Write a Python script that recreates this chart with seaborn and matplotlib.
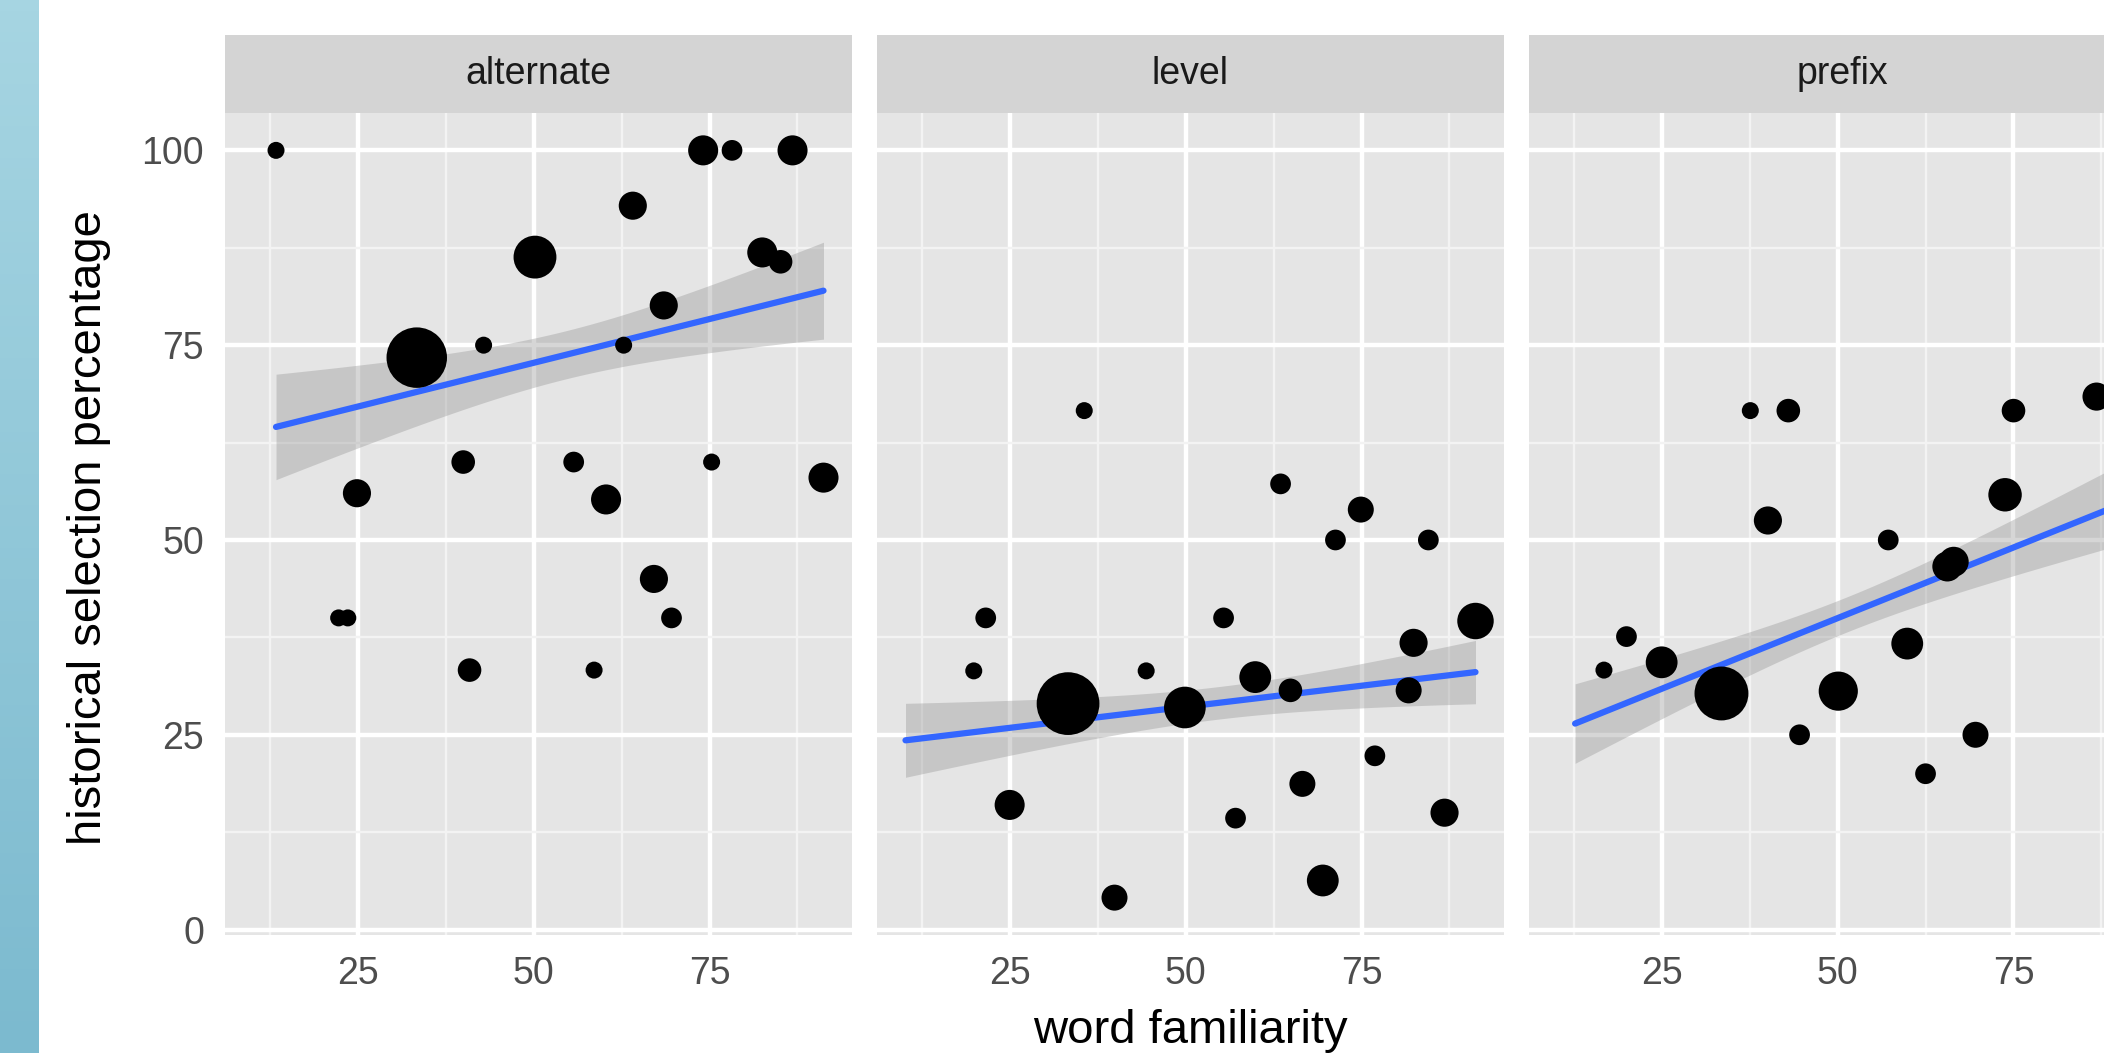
import numpy as np
import pandas as pd
import seaborn as sns
import matplotlib.pyplot as plt
from matplotlib.colors import LinearSegmentedColormap

# ---- data ----
facets = ['alternate', 'level', 'prefix']

alternate_familiarity = [13.4, 74.1, 78.2, 86.8, 64.1, 50.2, 82.5, 85.1, 68.5, 33.4, 42.9, 62.8,
                         40.0, 55.7, 75.3, 91.2, 24.9, 60.3, 67.1, 22.3, 23.6, 69.6, 40.9, 58.6]
alternate_selection = [100, 100, 100, 100, 92.9, 86.3, 86.9, 85.7, 80.1, 73.4, 75, 75,
                       60, 60, 60, 58, 56, 55.2, 45, 40, 40, 40, 33.3, 33.3]
alternate_n = [1, 6, 2, 6, 5, 15, 6, 3, 5, 34, 1, 1,
               3, 2, 1, 6, 5, 6, 5, 1, 1, 2, 3, 1]

level_familiarity = [10.2, 35.6, 63.5, 74.9, 71.3, 84.5, 21.6, 55.4, 91.2, 82.4, 19.9, 44.4,
                     59.9, 64.9, 81.7, 33.3, 49.9, 76.9, 66.6, 25.0, 57.1, 86.8, 69.5, 39.9]
level_selection = [50, 66.6, 57.2, 53.9, 50, 50, 40, 40, 39.6, 36.8, 33.2, 33.2,
                   32.4, 30.7, 30.7, 29.0, 28.5, 22.3, 18.7, 16.0, 14.3, 15.0, 6.3, 4.1]
level_n = [0, 1, 2, 4, 2, 2, 2, 2, 10, 5, 1, 1,
           7, 3, 4, 37, 14, 2, 4, 6, 2, 5, 7, 4]

# the last prefix word sits past the cropped right edge
prefix_familiarity = [12.7, 37.6, 43.0, 75.0, 86.8, 73.8, 40.1, 57.2, 65.6, 66.5,
                      59.9, 20.0, 25.0, 16.8, 33.5, 50.1, 44.6, 69.6, 62.5, 90.5]
prefix_selection = [30, 66.6, 66.6, 66.6, 68.4, 55.8, 52.5, 50, 46.6, 47.2,
                    36.7, 37.6, 34.3, 33.3, 30.3, 30.6, 25, 25, 20, 35]
prefix_n = [0, 1, 3, 3, 5, 8, 5, 2, 6, 6,
            7, 2, 7, 1, 26, 12, 2, 4, 2, 2]

x_ticks = [25, 50, 75]
y_ticks = [0, 25, 50, 75, 100]

frames = []
for name, fx, sy, n in [('alternate', alternate_familiarity, alternate_selection, alternate_n),
                        ('level', level_familiarity, level_selection, level_n),
                        ('prefix', prefix_familiarity, prefix_selection, prefix_n)]:
    frames.append(pd.DataFrame({'pattern': name, 'familiarity': fx, 'selection': sy, 'n': n}))
df = pd.concat(frames, ignore_index=True)


def weighted_fit(sub, grid):
    # lm(selection ~ familiarity) with n as frequency weights, 95% band
    m = sub['n'] > 0
    x = sub.loc[m, 'familiarity'].to_numpy(float)
    y = sub.loc[m, 'selection'].to_numpy(float)
    w = sub.loc[m, 'n'].to_numpy(float)
    X = np.column_stack([np.ones_like(x), x])
    inv = np.linalg.inv(X.T @ (w[:, None] * X))
    beta = inv @ X.T @ (w * y)
    res = y - X @ beta
    dof = w.sum() - 2
    s2 = np.sum(w * res ** 2) / dof
    G = np.column_stack([np.ones_like(grid), grid])
    fit = G @ beta
    se = np.sqrt(s2 * np.einsum('ij,jk,ik->i', G, inv, G))
    t = 1.96 + 2.4 / dof
    return fit, fit - t * se, fit + t * se


# point diameter in pixels grows with sqrt(n)
def marker_area(n):
    d_px = 8 + 9 * np.sqrt(n)
    return (0.72 * d_px) ** 2


# ---- figure layout (pixels of the 2104 x 1053 canvas) ----
W, H = 2104, 1053
sns.set_theme(style='darkgrid')
plt.rcParams['font.family'] = ['Liberation Sans', 'DejaVu Sans']

fig = plt.figure(figsize=(W / 100, H / 100), dpi=100)
fig.patch.set_facecolor('white')

# light blue slide stripe on the left
stripe = fig.add_axes([0, 0, 39 / W, 1])
cmap = LinearSegmentedColormap.from_list('stripe', ['#A6D5E2', '#7CBACF'])
stripe.imshow(np.linspace(0, 1, 100)[:, None], aspect='auto', cmap=cmap)
stripe.set_axis_off()

panel_left = [225, 877, 1529]
panel_w = 627
panel_top, panel_bottom = 113, 935
strip_top = 35

xmin, xmax = df['familiarity'].min(), df['familiarity'].max()
ymin, ymax = df['selection'].min(), df['selection'].max()
xlim = (xmin - 0.05 * (xmax - xmin), xmax + 0.05 * (xmax - xmin))
ylim = (ymin - 0.05 * (ymax - ymin), ymax + 0.05 * (ymax - ymin))
size_map = {v: marker_area(v) for v in sorted(df.loc[df['n'] > 0, 'n'].unique())}

for i, name in enumerate(facets):
    sub = df[df['pattern'] == name]
    ax = fig.add_axes([panel_left[i] / W, 1 - panel_bottom / H,
                       panel_w / W, (panel_bottom - panel_top) / H])
    ax.set_facecolor('#E5E5E5')

    grid = np.linspace(sub['familiarity'].min(), sub['familiarity'].max(), 100)
    fit, lo, hi = weighted_fit(sub, grid)
    ax.fill_between(grid, lo, hi, color='#999999', alpha=0.4, linewidth=0, zorder=2)
    sns.lineplot(x=grid, y=fit, color='#3366FF', linewidth=4.5, ax=ax, zorder=3)

    pts = sub[sub['n'] > 0]
    sns.scatterplot(data=pts, x='familiarity', y='selection', size='n',
                    sizes=size_map, color='black', linewidth=0, legend=False,
                    ax=ax, zorder=4)

    ax.set_xlim(xlim)
    ax.set_ylim(ylim)
    ax.set_xticks(x_ticks)
    ax.set_yticks(y_ticks)
    ax.set_xticks([12.5, 37.5, 62.5, 87.5], minor=True)
    ax.set_yticks([12.5, 37.5, 62.5, 87.5], minor=True)
    ax.grid(which='major', color='white', linewidth=3.2)
    ax.grid(which='minor', color='#F3F3F3', linewidth=1.7)
    ax.set_axisbelow(True)
    for sp in ax.spines.values():
        sp.set_visible(False)
    ax.set_xlabel('')
    ax.set_ylabel('')
    ax.tick_params(axis='both', which='major', length=8, width=2.2, color='#333333',
                   labelsize=27, labelcolor='#4D4D4D', pad=7)
    ax.tick_params(axis='both', which='minor', length=0)
    ax.set_xticklabels([str(v) for v in x_ticks])
    if i == 0:
        ax.set_yticklabels([str(v) for v in y_ticks])
    else:
        ax.tick_params(axis='y', which='major', length=0, labelleft=False)

    # facet strip
    strip = fig.add_axes([panel_left[i] / W, 1 - panel_top / H,
                          panel_w / W, (panel_top - strip_top) / H])
    strip.set_facecolor('#D4D4D4')
    strip.set_xticks([])
    strip.set_yticks([])
    for sp in strip.spines.values():
        sp.set_visible(False)
    strip.text(0.5, 0.5, name, ha='center', va='center', fontsize=27,
               color='#1A1A1A', transform=strip.transAxes)

fig.text(1190 / W, 1 - 1043 / H, 'word familiarity', ha='center', va='baseline',
         fontsize=34, color='black')
fig.text(89 / W, 1 - 528 / H, 'historical selection percentage', ha='center',
         va='center', rotation=90, fontsize=34, color='black')

fig.savefig('out.png', dpi=100)
